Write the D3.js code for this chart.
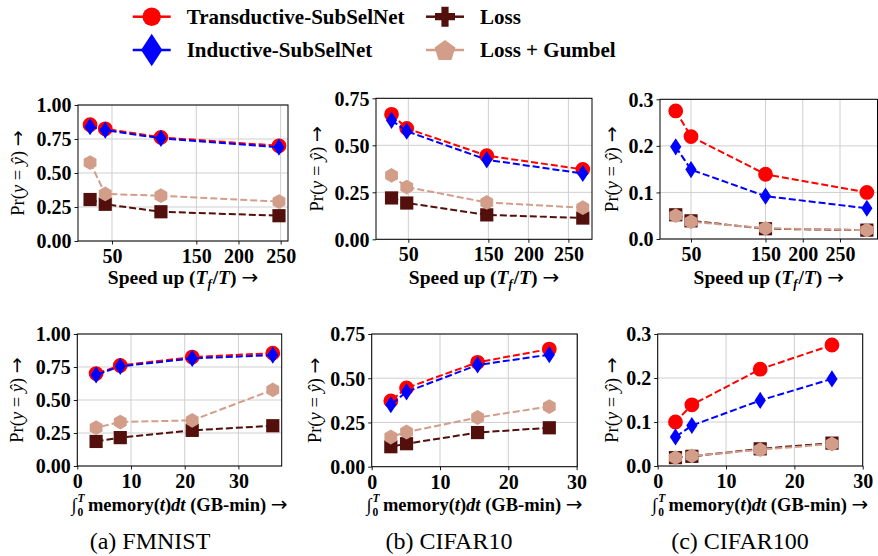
<!DOCTYPE html>
<html><head><meta charset="utf-8">
<script src="https://cdn.jsdelivr.net/npm/d3@7"></script>
<style>body{margin:0;background:#fff}svg{display:block}</style>
</head><body>
<svg id="c" width="878" height="556"></svg>
<script>
// ---------------- data ----------------
const seriesNames = ["Transductive-SubSelNet", "Inductive-SubSelNet", "Loss", "Loss + Gumbel"];
const datasets = ["FMNIST", "CIFAR10", "CIFAR100"];
const captions = ["(a) FMNIST", "(b) CIFAR10", "(c) CIFAR100"];

const speedFMNIST = [24, 42, 108, 248];
const memFMNIST = [36.4, 21.4, 8.0, 3.5];
const transFMNIST = [0.855, 0.825, 0.762, 0.700];
const indFMNIST = [0.840, 0.815, 0.755, 0.690];
const lossFMNIST = [0.305, 0.270, 0.215, 0.186];
const gumbelFMNIST = [0.577, 0.346, 0.333, 0.290];

const speedCIFAR10 = [29, 48, 148, 268];
const memCIFAR10 = [26.0, 15.5, 5.1, 2.8];
const transCIFAR10 = [0.665, 0.590, 0.445, 0.372];
const indCIFAR10 = [0.633, 0.575, 0.423, 0.350];
const lossCIFAR10 = [0.220, 0.193, 0.130, 0.113];
const gumbelCIFAR10 = [0.340, 0.278, 0.196, 0.168];

const speedCIFAR100 = [29.5, 50, 150, 286];
const memCIFAR100 = [25.5, 15.0, 5.0, 2.6];
const transCIFAR100 = [0.275, 0.220, 0.139, 0.100];
const indCIFAR100 = [0.198, 0.149, 0.092, 0.066];
const lossCIFAR100 = [0.052, 0.039, 0.022, 0.019];
const gumbelCIFAR100 = [0.050, 0.037, 0.023, 0.019];

const speedTicks = [50, 150, 200, 250];
const memTicks = [0, 10, 20, 30];
const yTicksFMNIST = [0, 0.25, 0.5, 0.75, 1.0];
const yTicksCIFAR10 = [0, 0.25, 0.5, 0.75];
const yTicksCIFAR100 = [0, 0.1, 0.2, 0.3];

// ---------------- style / layout ----------------
const colors = ["#ff0000", "#0000ff", "#520f0c", "#d29e8a"];
const plotMarkers = ["circle", "thindiamond", "square", "hexagon"];
const legendMarkers = ["circle", "thindiamond", "plus", "pentagon"];
const SERIF = "'Liberation Serif','Times New Roman',serif";
const ARROWFONT = "'DejaVu Sans',sans-serif";

const panels = [
  {ds: 0, row: 0, x0: 78, x1: 288, y0: 105, y1: 241, xd: [9.7, 258.7]},
  {ds: 1, row: 0, x0: 376, x1: 592, y0: 98.3, y1: 239.3, xd: [9.6, 279.5]},
  {ds: 2, row: 0, x0: 660, x1: 877.5, y0: 99.3, y1: 239, xd: [8.4, 300.3]},
  {ds: 0, row: 1, x0: 77.3, x1: 281.7, y0: 334, y1: 466, xd: [0, 38.06]},
  {ds: 1, row: 1, x0: 371.7, x1: 577.3, y0: 334, y1: 466.7, xd: [0, 30.1]},
  {ds: 2, row: 1, x0: 657.7, x1: 862.7, y0: 334, y1: 466, xd: [0, 30]}
];
const capX = [150, 449, 740];
const ylabX = [[18, 316.7, 611.7], [17, 315, 611.7]];

const dataBy = [
  {speed: speedFMNIST, mem: memFMNIST, series: [transFMNIST, indFMNIST, lossFMNIST, gumbelFMNIST], yTicks: yTicksFMNIST, fmt: d3.format(".2f")},
  {speed: speedCIFAR10, mem: memCIFAR10, series: [transCIFAR10, indCIFAR10, lossCIFAR10, gumbelCIFAR10], yTicks: yTicksCIFAR10, fmt: d3.format(".2f")},
  {speed: speedCIFAR100, mem: memCIFAR100, series: [transCIFAR100, indCIFAR100, lossCIFAR100, gumbelCIFAR100], yTicks: yTicksCIFAR100, fmt: d3.format(".1f")}
];

function markerPath(type, s) {
  switch (type) {
    case "circle": {
      const r = 7.4 * s;
      return `M${-r},0A${r},${r} 0 1,0 ${r},0A${r},${r} 0 1,0 ${-r},0Z`;
    }
    case "thindiamond": {
      const h = 8.6 * s, w = 5.6 * s;
      return `M0,${-h}L${w},0L0,${h}L${-w},0Z`;
    }
    case "square": {
      const a = 6.6 * s;
      return `M${-a},${-a}H${a}V${a}H${-a}Z`;
    }
    case "hexagon": {
      const r = 7.4 * s;
      let p = "";
      for (let i = 0; i < 6; i++) {
        const ang = -Math.PI / 2 + i * Math.PI / 3;
        p += (i ? "L" : "M") + (r * Math.cos(ang)).toFixed(2) + "," + (r * Math.sin(ang)).toFixed(2);
      }
      return p + "Z";
    }
    case "pentagon": {
      const r = 11 * s;
      let p = "";
      for (let i = 0; i < 5; i++) {
        const ang = -Math.PI / 2 + i * 2 * Math.PI / 5;
        p += (i ? "L" : "M") + (r * Math.cos(ang)).toFixed(2) + "," + (r * Math.sin(ang) + 1).toFixed(2);
      }
      return p + "Z";
    }
    case "plus": {
      const a = 10 * s, b = 3.6 * s;
      return `M${-b},${-a}H${b}V${-b}H${a}V${b}H${b}V${a}H${-b}V${b}H${-a}V${-b}H${-b}Z`;
    }
  }
}

const svg = d3.select("#c");

function arrow(t, size) {
  t.append("tspan").text(" ");
  t.append("tspan").attr("font-family", ARROWFONT).attr("font-weight", "normal")
    .attr("font-size", size).text("→");
}

// ---------------- panels ----------------
panels.forEach(p => {
  const D = dataBy[p.ds];
  const xs = p.row === 0 ? D.speed : D.mem;
  const x = d3.scaleLinear().domain(p.xd).range([p.x0, p.x1]);
  const yMax = D.yTicks[D.yTicks.length - 1];
  const y = d3.scaleLinear().domain([0, yMax]).range([p.y1, p.y0]);
  const xt = p.row === 0 ? speedTicks : memTicks;
  const g = svg.append("g");

  // grid
  g.append("g").selectAll("line").data(xt).join("line")
    .attr("x1", d => x(d)).attr("x2", d => x(d)).attr("y1", p.y0).attr("y2", p.y1)
    .attr("stroke", "#cfcfcf").attr("stroke-width", 1);
  g.append("g").selectAll("line").data(D.yTicks).join("line")
    .attr("y1", d => y(d)).attr("y2", d => y(d)).attr("x1", p.x0).attr("x2", p.x1)
    .attr("stroke", "#cfcfcf").attr("stroke-width", 1);

  // axes
  const xa = g.append("g").attr("transform", `translate(0,${p.y1})`)
    .call(d3.axisBottom(x).tickValues(xt).tickFormat(d3.format("d")).tickSize(3.5).tickPadding(3));
  const ya = g.append("g").attr("transform", `translate(${p.x0},0)`)
    .call(d3.axisLeft(y).tickValues(D.yTicks).tickFormat(D.fmt).tickSize(3.5).tickPadding(3));
  [xa, ya].forEach(a => {
    a.select(".domain").remove();
    a.selectAll("line").attr("stroke", "#000").attr("stroke-width", 0.9);
    a.selectAll("text").attr("font-family", SERIF).attr("font-weight", "bold")
      .attr("font-size", 20).attr("fill", "#000");
  });
  ya.selectAll("text").attr("dy", "0.34em");
  xa.selectAll("text").attr("dy", "0.78em");

  // frame
  g.append("rect").attr("x", p.x0).attr("y", p.y0).attr("width", p.x1 - p.x0).attr("height", p.y1 - p.y0)
    .attr("fill", "none").attr("stroke", "#000").attr("stroke-width", 1);

  // series
  D.series.forEach((vals, si) => {
    const pts = vals.map((v, i) => [xs[i], v]);
    const line = d3.line().x(d => x(d[0])).y(d => y(d[1]));
    g.append("path").attr("d", line(pts)).attr("fill", "none")
      .attr("stroke", colors[si]).attr("stroke-width", 2).attr("stroke-dasharray", "7,3");
    g.append("g").selectAll("path").data(pts).join("path")
      .attr("transform", d => `translate(${x(d[0])},${y(d[1])})`)
      .attr("d", markerPath(plotMarkers[si], 1))
      .attr("fill", colors[si]);
  });

  // x label
  const xl = svg.append("text").attr("x", (p.x0 + p.x1) / 2)
    .attr("y", p.row === 0 ? 284 : 511)
    .attr("text-anchor", "middle").attr("font-family", SERIF).attr("font-weight", "bold")
    .attr("font-size", p.row === 0 ? 19.5 : 18.5).attr("fill", "#000");
  if (p.row === 0) {
    xl.append("tspan").text("Speed up (");
    xl.append("tspan").attr("font-style", "italic").text("T");
    xl.append("tspan").attr("font-style", "italic").attr("font-size", 12.5).attr("dy", 4).text("f");
    xl.append("tspan").attr("dy", -4).attr("dx", 1).text("/");
    xl.append("tspan").attr("font-style", "italic").text("T");
    xl.append("tspan").text(")");
    arrow(xl, 20);
  } else {
    xl.append("tspan").attr("font-weight", "normal").text("∫");
    xl.append("tspan").attr("font-style", "italic").attr("font-size", 11.5).attr("dy", -9).attr("dx", 1).text("T");
    xl.append("tspan").attr("font-size", 11.5).attr("dy", 14).attr("dx", -7).text("0");
    xl.append("tspan").attr("dy", -5).text(" memory(");
    xl.append("tspan").attr("font-style", "italic").text("t");
    xl.append("tspan").text(")");
    xl.append("tspan").attr("font-style", "italic").text("dt");
    xl.append("tspan").text(" (GB-min)");
    arrow(xl, 20);
  }

  // y label
  const cy = (p.y0 + p.y1) / 2;
  const lx = ylabX[p.row][p.ds];
  const yl = svg.append("text").attr("transform", `translate(${lx},${cy}) rotate(-90)`)
    .attr("text-anchor", "middle").attr("dy", "0.35em").attr("font-family", SERIF)
    .attr("font-size", 18.5).attr("fill", "#000");
  yl.append("tspan").text("Pr(");
  yl.append("tspan").attr("font-style", "italic").text("y");
  yl.append("tspan").text(" = ");
  yl.append("tspan").attr("font-style", "italic").text("ŷ");
  yl.append("tspan").text(")");
  arrow(yl, 19);
});

// captions
captions.forEach((c, i) => {
  svg.append("text").attr("x", capX[i]).attr("y", 549).attr("text-anchor", "middle")
    .attr("font-family", SERIF).attr("font-size", 24).attr("fill", "#000").text(c);
});

// ---------------- legend ----------------
const legPos = [[151.7, 16.7], [151.7, 50], [445, 16.7], [445, 50]];
seriesNames.forEach((name, i) => {
  const [cx, cy] = legPos[i];
  const lg = svg.append("g").attr("transform", `translate(${cx},${cy})`);
  lg.append("line").attr("x1", -19).attr("x2", -7).attr("stroke", colors[i]).attr("stroke-width", 2.5);
  lg.append("line").attr("x1", 7).attr("x2", 19).attr("stroke", colors[i]).attr("stroke-width", 2.5);
  const s = legendMarkers[i] === "thindiamond" ? 1.9 : (legendMarkers[i] === "circle" ? 1.25 : 1);
  lg.append("path").attr("d", markerPath(legendMarkers[i], s)).attr("fill", colors[i]);
  svg.append("text").attr("x", cx + 35).attr("y", cy).attr("dy", "0.35em")
    .attr("font-family", SERIF).attr("font-weight", "bold").attr("font-size", 21)
    .attr("fill", "#000").text(name);
});
</script>
</body></html>
